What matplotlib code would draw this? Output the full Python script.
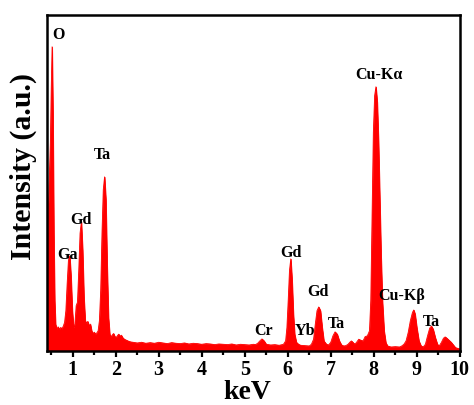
import matplotlib
matplotlib.use('Agg')
import matplotlib.pyplot as plt
from matplotlib.ticker import MultipleLocator

plt.rcParams['font.family'] = ['Liberation Serif', 'DejaVu Serif']
plt.rcParams['font.weight'] = 'bold'

# EDS trace (keV, intensity in % of axis height)
energy = [
    0.40, 0.44, 0.48, 0.50, 0.52, 0.54, 0.56, 0.58, 0.60, 0.63, 0.66, 0.69,
    0.72, 0.75, 0.78, 0.81, 0.84, 0.87, 0.90, 0.93, 0.96, 0.99, 1.02, 1.05,
    1.08, 1.11, 1.14, 1.17, 1.20, 1.23, 1.26, 1.29, 1.32, 1.35, 1.38, 1.41,
    1.44, 1.47, 1.50, 1.53, 1.56, 1.59, 1.62, 1.65, 1.68, 1.71, 1.74, 1.77,
    1.80, 1.83, 1.86, 1.89, 1.92, 1.95, 1.98, 2.01, 2.04, 2.07, 2.10, 2.13,
    2.16, 2.20, 2.25, 2.30, 2.35, 2.40, 2.5, 2.6, 2.7, 2.8, 2.9, 3.0,
    3.1, 3.2, 3.3, 3.4, 3.5, 3.6, 3.7, 3.8, 3.9, 4.0, 4.1, 4.2,
    4.3, 4.4, 4.5, 4.6, 4.7, 4.8, 4.9, 5.0, 5.1, 5.2, 5.25, 5.3,
    5.35, 5.4, 5.45, 5.5, 5.6, 5.7, 5.8, 5.9, 5.95, 5.98, 6.01, 6.04,
    6.07, 6.10, 6.13, 6.16, 6.20, 6.25, 6.3, 6.4, 6.5, 6.55, 6.6, 6.64,
    6.68, 6.72, 6.76, 6.80, 6.84, 6.90, 6.95, 7.0, 7.05, 7.10, 7.15, 7.20,
    7.25, 7.3, 7.35, 7.4, 7.45, 7.48, 7.52, 7.56, 7.60, 7.65, 7.70, 7.75,
    7.80, 7.85, 7.90, 7.93, 7.96, 7.99, 8.02, 8.05, 8.08, 8.11, 8.14, 8.17,
    8.20, 8.24, 8.28, 8.32, 8.4, 8.5, 8.6, 8.65, 8.70, 8.75, 8.80, 8.85,
    8.90, 8.93, 8.96, 9.00, 9.05, 9.10, 9.15, 9.20, 9.25, 9.30, 9.34, 9.38,
    9.43, 9.48, 9.52, 9.57, 9.62, 9.66, 9.70, 9.75, 9.80, 9.85, 9.90, 9.95,
    10.0,
]
intensity = [
    30, 45, 62, 78, 90.5, 70, 35, 15, 8, 6.5, 7.2, 6.4,
    7.0, 6.6, 7.4, 8.5, 12, 20, 27, 28.3, 22, 12, 7, 8,
    13.5, 14.5, 24, 35, 38.4, 30, 16, 9, 8.3, 8.8, 7.5, 8.0,
    6.0, 5.2, 5.6, 5.0, 5.4, 6.0, 9, 18, 35, 48, 51.8, 45,
    25, 10, 5, 4.2, 4.8, 5.2, 4.3, 4.0, 4.6, 5.0, 4.4, 4.7,
    4.0, 3.5, 3.2, 2.9, 2.7, 2.6, 2.4, 2.6, 2.3, 2.5, 2.3, 2.6,
    2.4, 2.2, 2.5, 2.3, 2.2, 2.4, 2.1, 2.3, 2.2, 2.0, 2.2, 2.1,
    1.9, 2.1, 2.0, 1.9, 2.1, 1.8, 2.0, 1.9, 1.8, 2.0, 1.9, 2.3,
    3.0, 3.6, 3.0, 2.0, 1.8, 1.9, 1.7, 2.0, 3, 7, 15, 24,
    27.4, 21, 11, 5, 2.6, 2.0, 1.7, 1.6, 1.5, 2.0, 3.5, 8,
    12, 13.1, 12, 7, 3, 2.0, 1.8, 2.6, 4.5, 5.7, 5.0, 3,
    1.8, 1.5, 1.6, 2.0, 2.7, 3.0, 2.5, 2.0, 2.6, 3.5, 3.2, 3.0,
    4.3, 4.5, 6, 15, 40, 65, 76, 78.6, 74, 62, 45, 28,
    15, 6, 2.5, 1.5, 1.2, 1.3, 1.2, 1.5, 2.0, 3.0, 5.5, 9,
    11.5, 12.2, 11, 7, 3, 1.5, 1.2, 2.0, 4.5, 6.8, 7.4, 6.5,
    4.0, 2.0, 1.5, 2.5, 3.8, 4.2, 3.8, 3.2, 2.6, 1.8, 1.0, 0.8,
    0.6,
]

# peak labels: text, keV, intensity
labels = ['O', 'Ga', 'Gd', 'Ta', 'Cr', 'Gd', 'Yb', 'Gd', 'Ta',
          'Cu-Kα', 'Cu-Kβ', 'Ta']
label_x = [0.67, 0.87, 1.19, 1.70, 5.44, 6.07, 6.40, 6.70, 7.12,
           8.11, 8.65, 9.35]
label_y = [94.3, 28.9, 39.3, 58.6, 6.3, 29.5, 6.3, 17.9, 8.3,
           82.4, 16.7, 8.9]

fig = plt.figure(figsize=(4.74, 4.06), dpi=100)
ax = fig.add_axes([0.099, 0.133, 0.871, 0.828])

ax.fill_between(energy, 0, intensity, color='#ff0000', lw=0.6)
ax.plot(energy, intensity, color='#ff0000', lw=0.6)

for t, x, y in zip(labels, label_x, label_y):
    ax.text(x, y, t, ha='center', va='center', fontsize=11.5,
            fontweight='bold', zorder=5)

ax.set_xlim(0.4, 10)
ax.set_ylim(0, 100)
ax.xaxis.set_major_locator(MultipleLocator(1))
ax.xaxis.set_minor_locator(MultipleLocator(0.5))
ax.set_yticks([])
ax.tick_params(axis='x', which='major', direction='out', length=4,
               width=1.6, labelsize=14.5, pad=1.5)
ax.tick_params(axis='x', which='minor', direction='out', length=3,
               width=1.6)
for s in ax.spines.values():
    s.set_linewidth(1.8)

# axis titles placed where they sit in the picture
fig.text(247 / 474, 1 - 393 / 406, 'keV', ha='center', va='center',
         fontsize=20, fontweight='bold')
fig.text(23 / 474, 1 - 167 / 406, 'Intensity (a.u.)', rotation=90,
         ha='center', va='center', fontsize=21.5, fontweight='bold')

plt.savefig('out.png', dpi=100)
